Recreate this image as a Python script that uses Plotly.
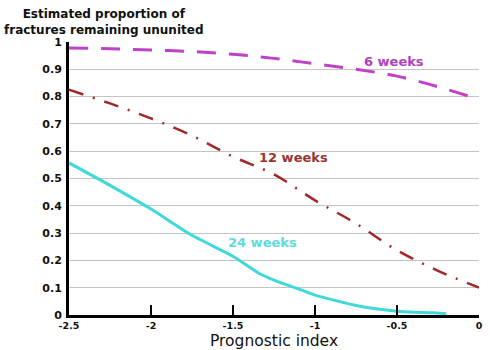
import plotly.graph_objects as go

# Data
x_grid = [-2.5, -2.25, -2.0, -1.75, -1.5, -1.25, -1.0, -0.75, -0.5, -0.25, 0.0]
weeks6 = [0.978, 0.975, 0.971, 0.965, 0.955, 0.94, 0.92, 0.90, 0.875, 0.836, 0.79]
weeks12 = [0.825, 0.775, 0.72, 0.657, 0.58, 0.515, 0.42, 0.335, 0.237, 0.162, 0.10]
x24 = [-2.5, -2.25, -2.0, -1.75, -1.5, -1.34, -1.25, -1.09, -1.0, -0.75, -0.5, -0.28, -0.2]
weeks24 = [0.557, 0.475, 0.388, 0.292, 0.215, 0.152, 0.128, 0.093, 0.073, 0.035, 0.014, 0.008, 0.005]

x_ticks = [-2.5, -2, -1.5, -1, -0.5, 0]
x_ticktext = ["-2.5", "-2", "-1.5", "-1", "-0.5", "0"]
y_ticks = [0, 0.1, 0.2, 0.3, 0.4, 0.5, 0.6, 0.7, 0.8, 0.9, 1]
y_ticktext = ["0", "0.1", "0.2", "0.3", "0.4", "0.5", "0.6", "0.7", "0.8", "0.9", "1"]

labels = ["6 weeks", "12 weeks", "24 weeks"]
label_x = [-0.52, -1.13, -1.32]
label_y = [0.93, 0.578, 0.265]
colors = ["#c040c8", "#a02828", "#40d8d8"]
text_colors = ["#b040c0", "#993333", "#60dada"]

fig = go.Figure()
fig.add_trace(go.Scatter(x=x_grid, y=weeks6, mode="lines",
                         line=dict(color=colors[0], width=3, dash="19px,13px", shape="spline"),
                         showlegend=False))
fig.add_trace(go.Scatter(x=x_grid, y=weeks12, mode="lines",
                         line=dict(color=colors[1], width=2.5, dash="15px,10px,2px,10px", shape="spline"),
                         showlegend=False))
fig.add_trace(go.Scatter(x=x24, y=weeks24, mode="lines",
                         line=dict(color=colors[2], width=3, shape="spline", smoothing=0.6),
                         showlegend=False))

for t, xx, yy, c in zip(labels, label_x, label_y, text_colors):
    fig.add_annotation(x=xx, y=yy, text=t, showarrow=False,
                       font=dict(family="DejaVu Sans", size=13, color=c, weight="bold"))

fig.add_annotation(xref="paper", yref="paper", x=0.0854, y=1.135, xanchor="center", yanchor="top",
                   text="Estimated proportion of<br>fractures remaining ununited",
                   showarrow=False, align="center",
                   font=dict(family="DejaVu Sans", size=12, color="#111111", weight="bold"))

fig.add_annotation(xref="paper", yref="paper", x=0.5, y=-0.094, xanchor="center", yanchor="middle",
                   text="Prognostic index", showarrow=False,
                   font=dict(family="DejaVu Sans", size=15.5, color="#111111"))

fig.update_layout(
    width=490, height=350,
    margin=dict(l=69, r=11, t=42, b=35),
    paper_bgcolor="white", plot_bgcolor="white",
    xaxis=dict(range=[-2.5, 0], tickvals=x_ticks, ticktext=x_ticktext,
               showgrid=False, zeroline=False, automargin=False,
               showline=True, linecolor="black", linewidth=3,
               ticks="inside", ticklen=10, tickwidth=2, tickcolor="black",
               tickfont=dict(family="DejaVu Sans", size=9.5, color="#111111", weight="bold")),
    yaxis=dict(range=[0, 1], tickvals=y_ticks, ticktext=y_ticktext,
               showgrid=True, gridcolor="#c4c4c4", gridwidth=1, zeroline=False,
               automargin=False,
               showline=True, linecolor="black", linewidth=3,
               ticks="", ticklabelstandoff=2,
               tickfont=dict(family="DejaVu Sans", size=11, color="#111111", weight="bold")),
)

fig.write_html("out.html")
